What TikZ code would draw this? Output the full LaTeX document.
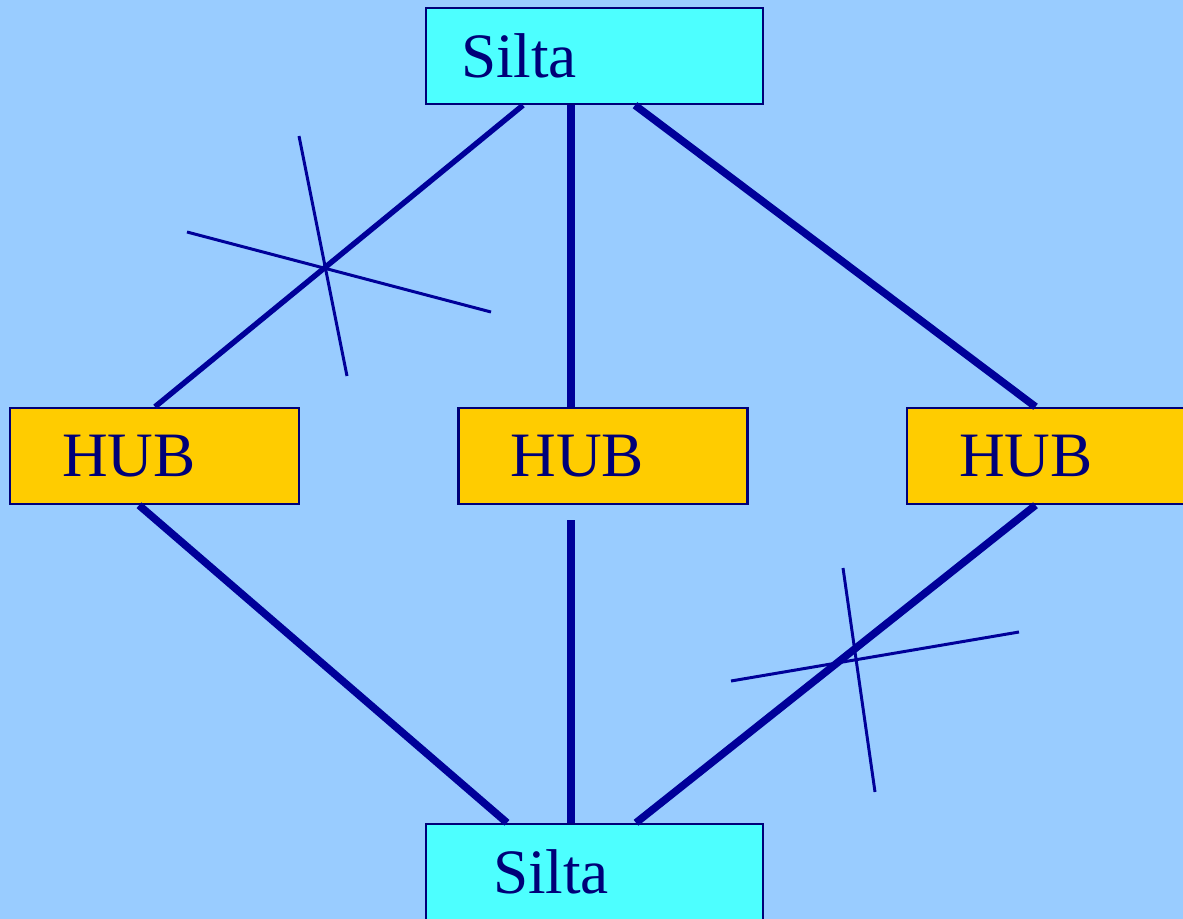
\documentclass[tikz,border=0pt]{standalone}
\usepackage{fontspec}
\setmainfont{Liberation Serif}
\usetikzlibrary{calc}
\definecolor{bgblue}{RGB}{153,204,255}
\definecolor{siltacyan}{RGB}{77,255,255}
\definecolor{hubgold}{RGB}{255,204,0}
\definecolor{navy}{RGB}{0,0,120}
\definecolor{linkblue}{RGB}{0,0,153}
\tikzset{>=latex}
\tikzset{
  siltabox/.style={draw=navy, line width=1.4pt, fill=siltacyan, minimum height=1.92cm, align=left},
  hubbox/.style={draw=navy, line width=1.4pt, fill=hubgold, minimum height=1.92cm, align=left, inner xsep=1.04cm, text width=3.70cm},
  link/.style={linkblue, line width=4.3pt},
  thinlink/.style={linkblue, line width=3.1pt},
  cut/.style={linkblue, line width=1.7pt}
}

\begin{document}
\begin{tikzpicture}[x=0.02cm, y=-0.02cm, font=\fontsize{36}{40}\selectfont, text=navy]
    \clip (0,0) rectangle (1183,919);
    \fill[bgblue] (0,0) rectangle (1183,919);

    \node[siltabox, inner xsep=0.70cm, text width=5.34cm] (silta1) at (594.5,56) {Silta};
    \node[hubbox] (hub1) at (154.5,456) {HUB};
    \node[hubbox] (hub2) at (603,456) {HUB};
    \node[hubbox] (hub3) at (1051.5,456) {HUB};
    \node[siltabox, inner xsep=1.34cm, text width=4.06cm] (silta2) at (594.5,872) {Silta};

    \draw[thinlink] ($(silta1.south)+(-71.5,0)$) -- ($(hub1.north)+(0.5,0)$);
    \draw[link] ($(silta1.south)+(-23.5,0)$) -- ($(hub2.north)+(-32,0)$);
    \draw[link] ($(silta1.south)+(40.5,0)$) -- ($(hub3.north)+(-16,0)$);
    \draw[link] ($(hub1.south)+(-15.5,0)$) -- ($(silta2.north)+(-87.5,0)$);
    \draw[link, shorten <=0.3cm] ($(hub2.south)+(-32,0)$) -- ($(silta2.north)+(-23.5,0)$);
    \draw[link] ($(hub3.south)+(-16,0)$) -- ($(silta2.north)+(41.5,0)$);

    \draw[cut] (299,136) -- (347,376);
    \draw[cut] (187,232) -- (491,312);
    \draw[cut] (843,568) -- (875,792);
    \draw[cut] (731,681) -- (1019,632);
\end{tikzpicture}
\end{document}
